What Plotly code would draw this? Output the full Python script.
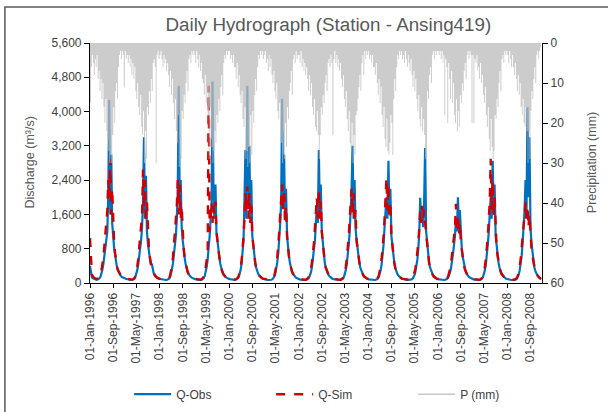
import datetime as dt
import plotly.graph_objects as go

YEARS = list(range(1996, 2009))
DEKAD_DAYS = [1, 11, 21]

# Discharge observed (m3/s), 36 dekad values per year (Jan..Dec, days 1/11/21)
QOBS_1996 = [400,180,130, 110,100,90, 80,75,80, 90,110,150, 220,320,450, 650,900,1100, 1200,2100,4270, 1600,3000,1400, 1000,800,650, 480,360,290, 230,190,160, 140,125,110]
QOBS_1997 = [110,100,90, 85,80,75, 70,70,75, 85,100,140, 200,300,420, 600,850,1000, 1300,1900,3400, 1500,2500,1200, 900,700,550, 420,450,300, 220,180,150, 130,115,100]
QOBS_1998 = [95,90,85, 80,75,70, 70,70,75, 85,100,140, 210,320,450, 650,900,1100, 1500,2200,4600, 1700,2400,1300, 1000,750,600, 450,340,270, 210,170,150, 130,115,100]
QOBS_1999 = [95,90,85, 80,75,70, 70,70,80, 95,120,170, 250,380,550, 800,1100,1500, 1800,4700,2200, 1500,2300,1200, 950,750,600, 450,340,270, 210,170,150, 130,115,100]
QOBS_2000 = [95,90,85, 80,75,75, 75,80,90, 110,140,200, 300,450,700, 1000,2000,3100, 1500,4600,1800, 3200,1500,2400, 1100,850,650, 480,360,280, 220,180,150, 130,115,100]
QOBS_2001 = [90,85,80, 75,70,70, 70,70,75, 90,110,150, 220,330,480, 700,1000,1400, 1900,4300,2000, 3000,1500,2200, 1100,800,620, 470,350,280, 220,180,150, 130,115,100]
QOBS_2002 = [90,85,80, 75,70,70, 70,70,75, 85,100,130, 180,260,380, 550,800,1000, 1300,1800,1400, 3100,1600,2300, 1200,900,680, 500,370,290, 230,185,155, 130,115,100]
QOBS_2003 = [90,85,80, 75,70,70, 70,70,75, 85,100,140, 200,300,430, 620,900,1200, 1600,2200,3200, 1500,2400,1300, 1000,780,620, 470,350,280, 220,180,150, 130,115,100]
QOBS_2004 = [90,85,80, 75,70,70, 70,70,75, 85,100,140, 200,300,430, 620,900,1300, 1700,2000,1500, 2850,1600,2200, 1100,820,640, 480,360,280, 220,180,150, 130,115,100]
QOBS_2005 = [90,85,80, 75,70,70, 70,70,75, 85,100,130, 180,260,380, 550,800,1200, 1990,1400,1700, 1300,1900,3150, 1200,900,680, 500,370,290, 230,185,155, 130,115,100]
QOBS_2006 = [90,85,80, 75,70,70, 70,70,75, 85,100,130, 180,260,360, 500,700,900, 1100,1500,1200, 2000,1300,1700, 1000,780,600, 450,340,270, 210,170,150, 130,115,100]
QOBS_2007 = [90,85,80, 75,70,70, 70,70,75, 85,100,140, 200,300,430, 620,900,1200, 1600,2000,1500, 2850,1700,2300, 1100,830,640, 480,360,280, 220,180,150, 130,115,100]
QOBS_2008 = [90,85,80, 75,70,70, 70,70,75, 85,100,140, 200,300,450, 650,950,1300, 1700,2400,1600, 4100,2000,3400, 1300,950,700, 500,370,290, 220,180,150, 130,110,90]

# Discharge simulated (m3/s)
QSIM_1996 = [1050,350,200, 150,120,110, 100,95,100, 110,130,180, 280,450,600, 900,1200,1500, 1700,2400,2000, 2900,1600,2200, 1200,900,700, 500,380,300, 240,200,170, 150,130,120]
QSIM_1997 = [110,100,95, 90,85,80, 75,75,80, 90,110,160, 250,380,550, 800,1000,1300, 1600,2650,1700, 2400,1400,1900, 1000,800,600, 450,350,280, 220,180,150, 130,115,105]
QSIM_1998 = [100,95,90, 85,80,75, 75,75,80, 95,120,170, 260,400,600, 850,1200,1500, 1800,2400,1600, 2300,1500,1800, 1100,800,600, 450,340,270, 210,170,150, 130,115,105]
QSIM_1999 = [100,95,90, 85,80,75, 75,80,90, 110,150,220, 350,520,700, 4600,1200,1500, 1900,1400,1800, 1600,1900,1200, 950,750,600, 450,340,270, 210,170,150, 130,115,100]
QSIM_2000 = [100,95,90, 85,80,80, 80,85,95, 120,160,230, 350,520,750, 1100,1500,2100, 1700,2250,1500, 2100,1400,1800, 1100,850,650, 480,360,280, 220,180,150, 130,115,100]
QSIM_2001 = [95,90,85, 80,75,75, 75,75,85, 100,130,180, 270,400,600, 850,1200,1600, 2000,2300,1700, 2200,1400,1800, 1100,800,620, 470,350,280, 220,180,150, 130,115,100]
QSIM_2002 = [95,90,85, 80,75,75, 75,75,80, 95,115,160, 230,340,500, 700,950,1300, 1600,2000,1500, 2200,1500,1900, 1200,900,680, 500,370,290, 230,185,155, 130,115,100]
QSIM_2003 = [95,90,85, 80,75,75, 75,75,80, 95,120,170, 250,380,560, 800,1100,1500, 1800,2200,1600, 2100,1400,1700, 1000,780,620, 470,350,280, 220,180,150, 130,115,100]
QSIM_2004 = [95,90,85, 80,75,75, 75,75,80, 95,120,170, 250,380,560, 800,1100,1500, 1900,2450,1700, 2300,1500,1900, 1100,820,640, 480,360,280, 220,180,150, 130,115,100]
QSIM_2005 = [95,90,85, 80,75,75, 75,75,80, 95,115,160, 230,340,500, 700,950,1300, 1700,1400,1800, 1500,1700,1400, 1100,850,660, 490,360,285, 225,180,150, 130,115,100]
QSIM_2006 = [95,90,85, 80,75,75, 75,75,80, 95,115,160, 230,330,470, 650,850,1100, 1300,1850,1200, 1600,1100,1400, 950,750,580, 440,330,265, 210,170,150, 130,115,100]
QSIM_2007 = [95,90,85, 80,75,75, 75,75,80, 95,120,170, 250,380,560, 800,1100,1500, 1900,2900,1700, 2400,1500,2000, 1100,830,640, 480,360,280, 220,180,150, 130,115,100]
QSIM_2008 = [95,90,85, 80,75,75, 75,75,80, 95,120,170, 250,380,560, 800,1050,1300, 1600,1900,1400, 1800,1300,1600, 1100,830,640, 480,360,280, 220,180,150, 130,110,95]

# Precipitation (mm)
P_1996 = [15,6,3, 5,8,4, 6,3,9, 7,12,9, 14,10,16, 20,14,22, 24,27,30, 28,30,23, 16,20,12, 10,14,6, 3,2,4, 2,3,11]
P_1997 = [2,4,3, 5,3,6, 4,8,5, 9,6,12, 14,10,16, 18,13,21, 23,17,30, 22,29,16, 18,12,15, 9,12,5, 4,6,30, 3,2,4]
P_1998 = [3,2,4, 6,3,5, 4,7,5, 8,11,7, 13,9,15, 19,14,22, 25,18,31, 24,29,17, 19,13,15, 10,7,12, 4,3,5, 2,3,2]
P_1999 = [3,5,2, 4,6,3, 7,5,9, 10,13,8, 15,11,18, 29,16,24, 26,30,27, 22,25,18, 20,14,17, 11,8,13, 5,3,4, 2,3,2]
P_2000 = [2,4,3, 5,3,6, 6,9,5, 11,8,13, 15,12,19, 21,16,29, 27,31,26, 30,18,28, 17,20,13, 9,12,6, 3,4,2, 3,2,4]
P_2001 = [3,2,5, 4,7,3, 6,4,8, 10,7,12, 14,10,17, 19,15,23, 25,30,22, 29,20,26, 16,19,12, 10,7,13, 4,3,5, 2,4,3]
P_2002 = [3,5,2, 6,4,7, 5,8,6, 9,12,8, 13,10,16, 18,14,21, 22,17,23, 29,23,16, 18,13,15, 10,8,12, 5,4,6, 3,5,23]
P_2003 = [4,2,5, 3,6,4, 7,5,9, 11,8,14, 16,12,19, 22,17,25, 26,20,30, 23,28,18, 17,14,11, 8,12,5, 3,8,2, 4,2,3]
P_2004 = [2,4,3, 5,3,6, 6,8,5, 10,13,9, 15,11,18, 21,16,24, 26,19,27, 28,25,18, 20,28,14, 9,12,6, 3,4,2, 3,2,4]
P_2005 = [3,5,2, 4,6,3, 5,7,4, 8,11,7, 12,9,14, 17,13,19, 21,16,22, 19,23,29, 30,12,14, 8,6,10, 3,2,4, 2,3,2]
P_2006 = [2,3,2, 4,2,5, 3,18,4, 6,20,5, 9,14,7, 15,10,18, 20,14,22, 17,21,13, 15,10,12, 7,5,9, 3,2,4, 2,3,20]
P_2007 = [3,20,4, 5,3,7, 6,9,5, 10,8,13, 15,11,18, 21,16,24, 27,19,26, 29,27,18, 19,14,16, 10,7,12, 4,3,5, 2,3,2]
P_2008 = [3,5,2, 4,6,3, 6,8,5, 9,12,8, 13,10,16, 18,14,20, 21,16,22, 30,22,29, 17,12,14, 9,6,10, 3,2,4, 2,1,0]

Q_OBS = [QOBS_1996, QOBS_1997, QOBS_1998, QOBS_1999, QOBS_2000, QOBS_2001, QOBS_2002,
         QOBS_2003, QOBS_2004, QOBS_2005, QOBS_2006, QOBS_2007, QOBS_2008]
Q_SIM = [QSIM_1996, QSIM_1997, QSIM_1998, QSIM_1999, QSIM_2000, QSIM_2001, QSIM_2002,
         QSIM_2003, QSIM_2004, QSIM_2005, QSIM_2006, QSIM_2007, QSIM_2008]
P_MM = [P_1996, P_1997, P_1998, P_1999, P_2000, P_2001, P_2002,
        P_2003, P_2004, P_2005, P_2006, P_2007, P_2008]

TICK_DATES = ["1996-01-01", "1996-09-01", "1997-05-01", "1998-01-01", "1998-09-01",
              "1999-05-01", "2000-01-01", "2000-09-01", "2001-05-01", "2002-01-01",
              "2002-09-01", "2003-05-01", "2004-01-01", "2004-09-01", "2005-05-01",
              "2006-01-01", "2006-09-01", "2007-05-01", "2008-01-01", "2008-09-01"]
Y1_TICKS = [0, 800, 1600, 2400, 3200, 4000, 4800, 5600]
Y2_TICKS = [0, 10, 20, 30, 40, 50, 60]

dates = [dt.date(y, m, d) for y in YEARS for m in range(1, 13) for d in DEKAD_DAYS]
qobs = [v for yr in Q_OBS for v in yr]
qsim = [v for yr in Q_SIM for v in yr]
pmm = [v for yr in P_MM for v in yr]

FONT = "Liberation Sans, Arial, sans-serif"
fig = go.Figure()
fig.add_trace(go.Scatter(x=dates, y=qobs, name="Q-Obs", mode="lines",
                         line=dict(color="#0070C0", width=2.2)))
fig.add_trace(go.Scatter(x=dates, y=qsim, name="Q-Sim", mode="lines",
                         line=dict(color="#D00000", width=2.4, dash="dash")))
fig.add_trace(go.Scatter(x=dates, y=pmm, name="P (mm)", mode="lines", yaxis="y2",
                         line=dict(color="rgba(187,187,187,0.75)", width=0, shape="hv"),
                         fill="tozeroy", fillcolor="rgba(187,187,187,0.75)", showlegend=False))
fig.add_trace(go.Scatter(x=[None], y=[None], name="P (mm)", mode="lines", yaxis="y2",
                         line=dict(color="#C8C8C8", width=1.5)))

fig.update_layout(
    width=608, height=412,
    margin=dict(l=90, r=66, t=43, b=129, autoexpand=False),
    paper_bgcolor="white", plot_bgcolor="white",
    font=dict(family=FONT, size=12, color="#404040"),
    title=dict(text="Daily Hydrograph (Station - Ansing419)", x=0.54, xanchor="center",
               y=1 - 24 / 412, yanchor="middle",
               font=dict(family=FONT, size=18.8, color="#595959")),
    xaxis=dict(type="date", range=["1996-01-01", "2008-12-31"], tickvals=TICK_DATES,
               tickformat="%d-%b-%Y", tickangle=-90, showgrid=False, zeroline=False,
               showline=True, linecolor="black", linewidth=1.2, ticks="outside",
               ticklen=4, tickcolor="black", tickfont=dict(size=12, color="#404040")),
    yaxis=dict(range=[0, 5600], tickvals=Y1_TICKS, tickformat=",d", showgrid=False,
               zeroline=False, showline=True, linecolor="black", linewidth=1.2,
               ticks="outside", ticklen=5, tickcolor="black",
               tickfont=dict(size=12, color="#404040")),
    yaxis2=dict(range=[60, 0], tickvals=Y2_TICKS, overlaying="y", side="right",
                showgrid=False, zeroline=False, showline=True, linecolor="black",
                linewidth=1.2, ticks="outside", ticklen=5, tickcolor="black",
                tickfont=dict(size=12, color="#404040")),
    legend=dict(orientation="h", x=0.0866, xanchor="left", y=-0.403, yanchor="top",
                font=dict(size=12, color="#404040"), itemwidth=37,
                entrywidth=90, entrywidthmode="pixels", bgcolor="rgba(0,0,0,0)"),
    showlegend=True,
)
fig.add_annotation(text="Discharge (m³/s)", xref="paper", yref="paper",
                   x=(30 - 90.4) / 451.5, xanchor="center", y=0.5, textangle=-90,
                   showarrow=False, font=dict(family=FONT, size=12.5, color="#595959"))
fig.add_annotation(text="Precipitation (mm)", xref="paper", yref="paper",
                   x=(592 - 90.4) / 451.5, xanchor="center", y=0.5, textangle=-90,
                   showarrow=False, font=dict(family=FONT, size=12.5, color="#595959"))
fig.add_shape(type="rect", xref="paper", yref="paper",
              x0=-85 / 451.5, x1=1.6, y0=-1.0, y1=276 / 240,
              line=dict(color="#595959", width=1.5), fillcolor="rgba(0,0,0,0)", layer="below")
fig.write_html("out.html")
